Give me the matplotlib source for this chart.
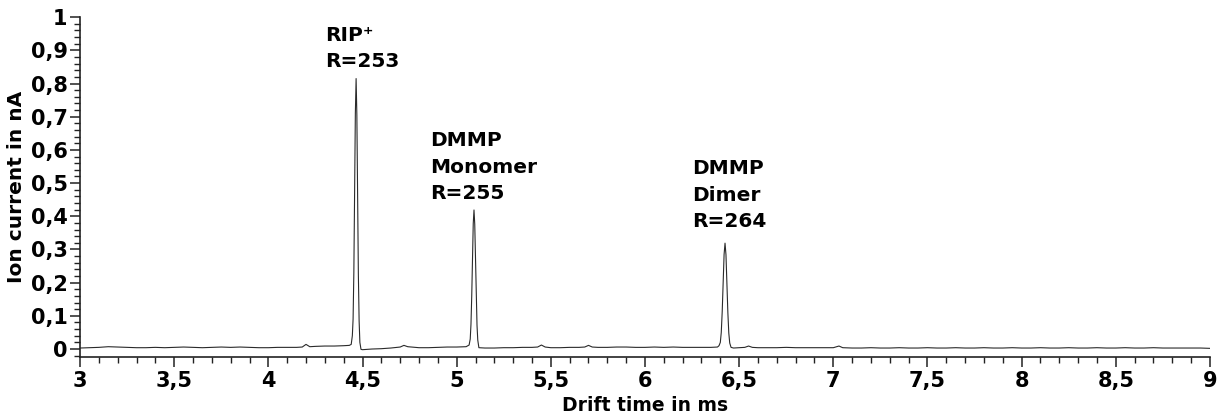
import matplotlib
matplotlib.use("Agg")
import matplotlib.pyplot as plt
from matplotlib.ticker import MultipleLocator, FuncFormatter

# ---- data ----
drift_time_ms = [
    3.00, 3.05, 3.10, 3.15, 3.20, 3.25, 3.30, 3.35, 3.40, 3.45, 3.50, 3.55, 3.60,
    3.65, 3.70, 3.75, 3.80, 3.85, 3.90, 3.95, 4.00, 4.05, 4.10, 4.15, 4.18, 4.20,
    4.22, 4.25, 4.30, 4.35, 4.40, 4.43,
    # RIP+ peak
    4.440, 4.446, 4.450, 4.454, 4.458, 4.462, 4.466, 4.470, 4.474, 4.478, 4.482,
    4.486, 4.492,
    4.50, 4.55, 4.60, 4.65, 4.70, 4.72, 4.74, 4.80, 4.85, 4.90, 4.95, 5.00, 5.05,
    # DMMP monomer peak
    5.066, 5.072, 5.076, 5.080, 5.084, 5.088, 5.092, 5.096, 5.100, 5.104, 5.108,
    5.112, 5.118,
    5.15, 5.20, 5.25, 5.30, 5.35, 5.40, 5.43, 5.45, 5.47, 5.50, 5.55, 5.60, 5.65,
    5.68, 5.70, 5.72, 5.75, 5.80, 5.85, 5.90, 5.95, 6.00, 6.05, 6.10, 6.15, 6.20,
    6.25, 6.30, 6.35, 6.385,
    # DMMP dimer peak
    6.393, 6.400, 6.405, 6.410, 6.415, 6.420, 6.425, 6.430, 6.435, 6.440, 6.445,
    6.450, 6.457,
    6.47, 6.50, 6.53, 6.55, 6.57, 6.60, 6.65, 6.70, 6.75, 6.80, 6.85, 6.90, 6.95,
    7.00, 7.03, 7.05, 7.10, 7.15, 7.20, 7.25, 7.30, 7.35, 7.40, 7.45, 7.50, 7.55,
    7.60, 7.65, 7.70, 7.75, 7.80, 7.85, 7.90, 7.95, 8.00, 8.05, 8.10, 8.15, 8.20,
    8.25, 8.30, 8.35, 8.40, 8.45, 8.50, 8.55, 8.60, 8.65, 8.70, 8.75, 8.80, 8.85,
    8.90, 8.95, 9.00,
]
ion_current_nA = [
    0.003, 0.004, 0.005, 0.007, 0.006, 0.005, 0.004, 0.004, 0.005, 0.004, 0.005, 0.006, 0.005,
    0.004, 0.005, 0.006, 0.005, 0.006, 0.005, 0.004, 0.004, 0.005, 0.005, 0.005, 0.006, 0.014,
    0.007, 0.008, 0.009, 0.009, 0.010, 0.011,
    # RIP+ peak
    0.014, 0.040, 0.090, 0.230, 0.465, 0.710, 0.815, 0.705, 0.460, 0.225, 0.085,
    0.020, -0.001,
    -0.002, 0.000, 0.001, 0.003, 0.006, 0.011, 0.007, 0.004, 0.004, 0.005, 0.006, 0.006, 0.007,
    # DMMP monomer peak
    0.012, 0.030, 0.075, 0.160, 0.272, 0.378, 0.419, 0.376, 0.270, 0.157, 0.072,
    0.027, 0.004,
    0.003, 0.003, 0.004, 0.004, 0.005, 0.005, 0.006, 0.012, 0.006, 0.004, 0.004, 0.005, 0.005,
    0.006, 0.011, 0.006, 0.005, 0.005, 0.006, 0.006, 0.005, 0.005, 0.006, 0.005, 0.006, 0.005,
    0.005, 0.005, 0.005, 0.006,
    # DMMP dimer peak
    0.010, 0.020, 0.050, 0.112, 0.200, 0.285, 0.319, 0.284, 0.198, 0.110, 0.048,
    0.018, 0.005,
    0.003, 0.004, 0.005, 0.009, 0.005, 0.004, 0.004, 0.004, 0.005, 0.004, 0.004, 0.004, 0.004,
    0.004, 0.009, 0.004, 0.003, 0.003, 0.004, 0.003, 0.003, 0.004, 0.003, 0.003, 0.004, 0.003,
    0.003, 0.004, 0.003, 0.003, 0.004, 0.003, 0.003, 0.004, 0.003, 0.003, 0.004, 0.003, 0.003,
    0.004, 0.003, 0.003, 0.004, 0.003, 0.003, 0.004, 0.003, 0.003, 0.004, 0.003, 0.003, 0.003,
    0.003, 0.003, 0.002,
]

peak_labels = ["RIP\u207a\nR=253", "DMMP\nMonomer\nR=255", "DMMP\nDimer\nR=264"]
label_x = [4.30, 4.86, 6.25]
label_y = [0.849, 0.452, 0.367]

# ---- figure ----
plt.rcParams['font.family'] = ['DejaVu Sans']
fig = plt.figure(figsize=(12.18, 4.19), dpi=100)
ax = fig.add_axes([0.0657, 0.148, 0.9277, 0.811])

ax.plot(drift_time_ms, ion_current_nA, color='#2a2a2a', linewidth=0.8)

ax.set_xlim(3, 9)
ax.set_ylim(-0.024, 1.0)

fmt = FuncFormatter(lambda v, p: ('{:g}'.format(round(v, 3))).replace('.', ','))
ax.xaxis.set_major_locator(MultipleLocator(0.5))
ax.xaxis.set_minor_locator(MultipleLocator(0.1))
ax.yaxis.set_major_locator(MultipleLocator(0.1))
ax.yaxis.set_minor_locator(MultipleLocator(0.02))
ax.xaxis.set_major_formatter(fmt)
ax.yaxis.set_major_formatter(fmt)
ax.set_yticks([i / 10 for i in range(11)])

for s in ['top', 'right']:
    ax.spines[s].set_visible(False)
for s in ['left', 'bottom']:
    ax.spines[s].set_linewidth(1.2)
    ax.spines[s].set_color('#222222')

ax.tick_params(axis='both', which='major', direction='out', length=7, width=1.1,
               labelsize=15, colors='#222222', labelcolor='black')
ax.tick_params(axis='both', which='minor', direction='out', length=4, width=1.0,
               colors='#222222')
ax.tick_params(axis='x', which='major', pad=3)
ax.tick_params(axis='y', which='major', pad=2)
for lab in ax.get_xticklabels() + ax.get_yticklabels():
    lab.set_fontweight('bold')

ax.set_xlabel('Drift time in ms', fontsize=13.5, fontweight='bold', labelpad=4)
ax.set_ylabel('Ion current in nA', fontsize=14.5, fontweight='bold', labelpad=3)

for t, x, y in zip(peak_labels, label_x, label_y):
    ax.text(x, y, t, fontsize=14.5, fontweight='bold', ha='left', va='baseline',
            linespacing=1.5)

fig.savefig('out.png', dpi=100)
